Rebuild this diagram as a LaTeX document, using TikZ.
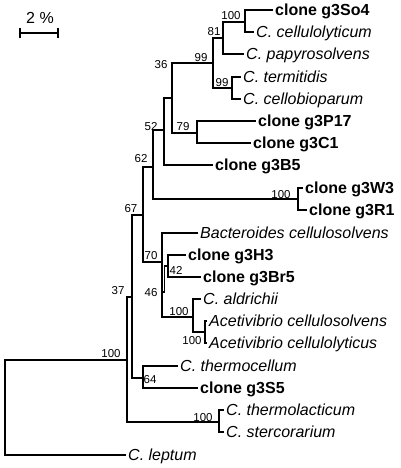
\documentclass[tikz,border=0pt]{standalone}
\usepackage{fontspec}
\setmainfont{Liberation Sans}
\begin{document}
\begin{tikzpicture}[x=1pt,y=-1pt,
  br/.style={line width=1.3pt,line cap=rect},
  leafb/.style={anchor=west,inner xsep=3pt,inner ysep=0pt,text height=11.5pt,text depth=0pt,font=\fontsize{16}{18}\selectfont\bfseries},
  leafi/.style={anchor=west,inner xsep=3pt,inner ysep=0pt,text height=11.5pt,text depth=0pt,font=\fontsize{16}{18}\selectfont\itshape},
  boot/.style={inner sep=0pt,text height=8.2pt,text depth=0pt,font=\fontsize{11.5}{13}\selectfont}]
\useasboundingbox (0,0) rectangle (400,468);
% scale bar
\coordinate (sbl) at (20,33);
\coordinate (sbr) at (58,33);
\draw[br] (sbl) -- (sbr);
\draw[br] ([yshift=-4pt]sbl) -- ([yshift=4pt]sbl);
\draw[br] ([yshift=-4pt]sbr) -- ([yshift=4pt]sbr);
\node[inner sep=0pt,text height=11.2pt,text depth=0pt,font=\fontsize{16}{18}\selectfont] (sbt) at (40,18) {2 \%};
% internal nodes
\coordinate (R) at (5,407);
\coordinate (A) at (127,360);
\coordinate (B) at (132,297);
\coordinate (C) at (143,215);
\coordinate (D) at (153,167);
\coordinate (E) at (164,130);
\coordinate (F) at (172,98);
\coordinate (G) at (213,63);
\coordinate (H) at (223,38);
\coordinate (J) at (245,22);
\coordinate (I) at (232,88);
\coordinate (T) at (197,133);
\coordinate (S) at (298,199);
\coordinate (K) at (162,262);
\coordinate (L) at (164.5,292);
\coordinate (M) at (168,266);
\coordinate (N) at (193,317);
\coordinate (O) at (205,332);
\coordinate (P) at (143,378);
\coordinate (Q) at (219,422);
% leaves
\node[leafb] (so4) at (272,10) {clone g3So4};
\node[leafi] (ccel) at (253,32) {C. cellulolyticum};
\node[leafi] (cpap) at (243,54) {C. papyrosolvens};
\node[leafi] (cter) at (240,77) {C. termitidis};
\node[leafi] (ccbp) at (240,99) {C. cellobioparum};
\node[leafb] (p17) at (255,121) {clone g3P17};
\node[leafb] (c1) at (250,143) {clone g3C1};
\node[leafb] (b5) at (212,165) {clone g3B5};
\node[leafb] (w3) at (302,188) {clone g3W3};
\node[leafb] (r1) at (306,210) {clone g3R1};
\node[leafi] (bact) at (197,233) {Bacteroides cellulosolvens};
\node[leafb] (h3) at (185,255) {clone g3H3};
\node[leafb] (br5) at (200,277) {clone g3Br5};
\node[leafi] (cald) at (200,299) {C. aldrichii};
\node[leafi] (acs) at (206,321) {Acetivibrio cellulosolvens};
\node[leafi] (acl) at (206,343) {Acetivibrio cellulolyticus};
\node[leafi] (cthc) at (177,366) {C. thermocellum};
\node[leafb] (s5) at (197,388) {clone g3S5};
\node[leafi] (ctl) at (223,410) {C. thermolacticum};
\node[leafi] (cst) at (223,432) {C. stercorarium};
\node[leafi] (clep) at (125,455) {C. leptum};
% branches
\draw[br] (R) |- (A);
\draw[br] (R) |- (clep.west);
\draw[br] (A) |- (B);
\draw[br] (A) |- (Q);
\draw[br] (Q) |- (ctl.west);
\draw[br] (Q) |- (cst.west);
\draw[br] (B) |- (C);
\draw[br] (B) |- (P);
\draw[br] (P) |- (cthc.west);
\draw[br] (P) |- (s5.west);
\draw[br] (C) |- (D);
\draw[br] (C) |- (K);
\draw[br] (D) |- (E);
\draw[br] (D) |- (S);
\draw[br] (S) |- (w3.west);
\draw[br] (S) |- (r1.west);
\draw[br] (E) |- (F);
\draw[br] (E) |- (b5.west);
\draw[br] (F) |- (G);
\draw[br] (F) |- (T);
\draw[br] (T) |- (p17.west);
\draw[br] (T) |- (c1.west);
\draw[br] (G) |- (H);
\draw[br] (G) |- (I);
\draw[br] (H) |- (J);
\draw[br] (H) |- (cpap.west);
\draw[br] (J) |- (so4.west);
\draw[br] (J) |- (ccel.west);
\draw[br] (I) |- (cter.west);
\draw[br] (I) |- (ccbp.west);
\draw[br] (K) |- (bact.west);
\draw[br] (K) |- (L);
\draw[br] (K) |- (N);
\draw[br] (L) |- (M);
\draw[br] (M) |- (h3.west);
\draw[br] (M) |- (br5.west);
\draw[br] (N) |- (cald.west);
\draw[br] (N) |- (O);
\draw[br] (O) |- (acs.west);
\draw[br] (O) |- (acl.west);
% bootstrap values
\node[boot] (bJ) at (231,15) {100};
\node[boot] (bH) at (214,31) {81};
\node[boot] (bG) at (201,57) {99};
\node[boot] (bI) at (222,82) {99};
\node[boot] (bF) at (161,64) {36};
\node[boot] (bT) at (183,126) {79};
\node[boot] (bE) at (151,126) {52};
\node[boot] (bD) at (141,158) {62};
\node[boot] (bS) at (281,194) {100};
\node[boot] (bC) at (131,208) {67};
\node[boot] (bK) at (151,255) {70};
\node[boot] (bM) at (176,270) {42};
\node[boot] (bL) at (151,292) {46};
\node[boot] (bN) at (179,311) {100};
\node[boot] (bO) at (192,340) {100};
\node[boot] (bB) at (118,290) {37};
\node[boot] (bA) at (111,353) {100};
\node[boot] (bP) at (150,379) {64};
\node[boot] (bQ) at (203,417) {100};
\end{tikzpicture}
\end{document}
